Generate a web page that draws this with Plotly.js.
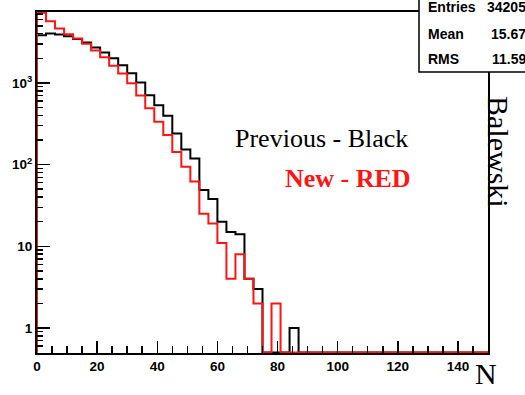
<!DOCTYPE html>
<html>
<head>
<meta charset="utf-8">
<script src="https://cdn.plot.ly/plotly-3.0.1.min.js"></script>
<style>
  html, body { margin: 0; padding: 0; background: #ffffff; }
  #chart { width: 525px; height: 395px; }
</style>
</head>
<body>
<div id="chart"></div>
<script>
// Binning: 50 bins of width 3 covering N = 0 .. 150
const binLow = 0;
const binWidth = 3;

// Counts per bin, previous production (black)
const previousCounts = [
  3830, 4020, 3910, 3720, 3450, 3130, 2720, 2350, 2005, 1650,
  1315, 1010, 705, 534, 397, 241, 153, 119, 49, 38,
  20, 15, 14, 4, 3, 0, 0, 0, 1, 0,
  0, 0, 0, 0, 0, 0, 0, 0, 0, 0,
  0, 0, 0, 0, 0, 0, 0, 0, 0, 0
];

// Counts per bin, new production (red)
const newCounts = [
  7200, 5680, 4620, 3950, 3500, 3010, 2500, 2060, 1620, 1300,
  990, 702, 490, 334, 230, 143, 94, 62, 25, 19,
  11, 4, 8, 4, 2, 0, 2, 0, 0, 0,
  0, 0, 0, 0, 0, 0, 0, 0, 0, 0,
  0, 0, 0, 0, 0, 0, 0, 0, 0, 0
];

// Axis ticks
const xTickVals = [0, 20, 40, 60, 80, 100, 120, 140];
const yTickVals = [1, 10, 100, 1000];
const yTickText = ['1', '10', '10<sup>2</sup>', '10<sup>3</sup>'];

// Statistics box of the black histogram
const statLabels = ['Entries', 'Mean', 'RMS'];
const statValues = ['34205', '15.67', '11.59'];

// Log-scale floor: empty bins are drawn along the bottom of the frame
const yFloor = 0.5;
const yRangeLog = [-0.306, 3.868];
const xRange = [0, 150];

// Outline of a histogram as a step line over the bin edges
function stepOutline(counts) {
  const xs = [binLow];
  const ys = [yFloor];
  counts.forEach((c, i) => {
    xs.push(binLow + i * binWidth);
    ys.push(c > 0 ? c : yFloor);
  });
  const last = counts[counts.length - 1];
  xs.push(binLow + counts.length * binWidth);
  ys.push(last > 0 ? last : yFloor);
  return { xs, ys };
}

const prev = stepOutline(previousCounts);
const neu = stepOutline(newCounts);

// Page geometry for the plot frame (pixels)
const W = 525, H = 395;
const M = { l: 37, r: 37, t: 12, b: 42 };
const PW = W - M.l - M.r, PH = H - M.t - M.b;
const px = x => (x - M.l) / PW;
const py = y => (H - M.b - y) / PH;

// Minor ticks of the log axis: 2..9 in every decade
const yMinor = [];
[0.1, 1, 10, 100, 1000].forEach(d => {
  for (let k = 2; k <= 9; k++) {
    const v = k * d;
    if (v >= yFloor - 1e-9 && v < 7400) yMinor.push(v);
  }
});

const traces = [
  {
    x: prev.xs, y: prev.ys, type: 'scatter', mode: 'lines',
    line: { shape: 'hv', color: '#000000', width: 2 },
    hoverinfo: 'skip', showlegend: false
  },
  {
    x: neu.xs, y: neu.ys, type: 'scatter', mode: 'lines',
    line: { shape: 'hv', color: '#ff1414', width: 2 },
    hoverinfo: 'skip', showlegend: false
  }
];

const tickFont = { family: 'Liberation Sans, Arial, sans-serif', size: 13.5, color: '#000', weight: 'bold' };
const statFont = { family: 'Liberation Sans, Arial, sans-serif', size: 14, color: '#000', weight: 'bold' };
const serif = 'Liberation Serif, Times New Roman, serif';

const annotations = [
  { text: 'Previous - Black', x: px(233), y: py(138.5), xanchor: 'left', yanchor: 'middle',
    font: { family: serif, size: 26, color: '#000' } },
  { text: '<b>New - RED</b>', x: px(283), y: py(178), xanchor: 'left', yanchor: 'middle',
    font: { family: serif, size: 26, color: '#ff1414' } },
  { text: 'Balewski', x: px(499), y: py(152), xanchor: 'center', yanchor: 'middle', textangle: 90,
    font: { family: serif, size: 30, color: '#000' } },
  { text: 'N', x: px(485.5), y: py(373.5), xanchor: 'center', yanchor: 'middle',
    font: { family: serif, size: 30, color: '#000' } }
];

const statRowY = [6.5, 33.5, 58.5];
statLabels.forEach((lab, i) => {
  annotations.push({ text: lab, x: px(426), y: py(statRowY[i]), xanchor: 'left', yanchor: 'middle',
    font: statFont });
  annotations.push({ text: statValues[i], x: px(527.5), y: py(statRowY[i]), xanchor: 'right', yanchor: 'middle',
    font: statFont });
});
annotations.forEach(a => { a.xref = 'paper'; a.yref = 'paper'; a.showarrow = false; });

const layout = {
  width: W, height: H,
  margin: M,
  paper_bgcolor: '#ffffff',
  plot_bgcolor: '#ffffff',
  showlegend: false,
  xaxis: {
    range: xRange,
    tickmode: 'array', tickvals: xTickVals,
    ticks: 'inside', ticklen: 12, tickwidth: 1.5, tickcolor: '#000',
    minor: { dtick: 5, tick0: 0, ticks: 'inside', ticklen: 7, tickwidth: 1.5, tickcolor: '#000', showgrid: false },
    showgrid: false, zeroline: false,
    showline: true, linecolor: '#000', linewidth: 2, mirror: true,
    tickfont: tickFont
  },
  yaxis: {
    type: 'log',
    range: yRangeLog,
    tickmode: 'array', tickvals: yTickVals, ticktext: yTickText,
    ticks: 'inside', ticklen: 13, tickwidth: 1.5, tickcolor: '#000',
    minor: { tickmode: 'array', tickvals: yMinor, ticks: 'inside', ticklen: 6, tickwidth: 1.5, tickcolor: '#000', showgrid: false },
    showgrid: false, zeroline: false,
    showline: true, linecolor: '#000', linewidth: 2, mirror: true,
    tickfont: tickFont
  },
  shapes: [
    { type: 'rect', xref: 'paper', yref: 'paper', layer: 'above',
      x0: px(419), x1: px(540), y0: py(72), y1: py(-10),
      fillcolor: '#ffffff', line: { color: '#000', width: 1.5 } }
  ],
  annotations: annotations
};

Plotly.newPlot('chart', traces, layout, { staticPlot: true, displayModeBar: false });
</script>
</body>
</html>
